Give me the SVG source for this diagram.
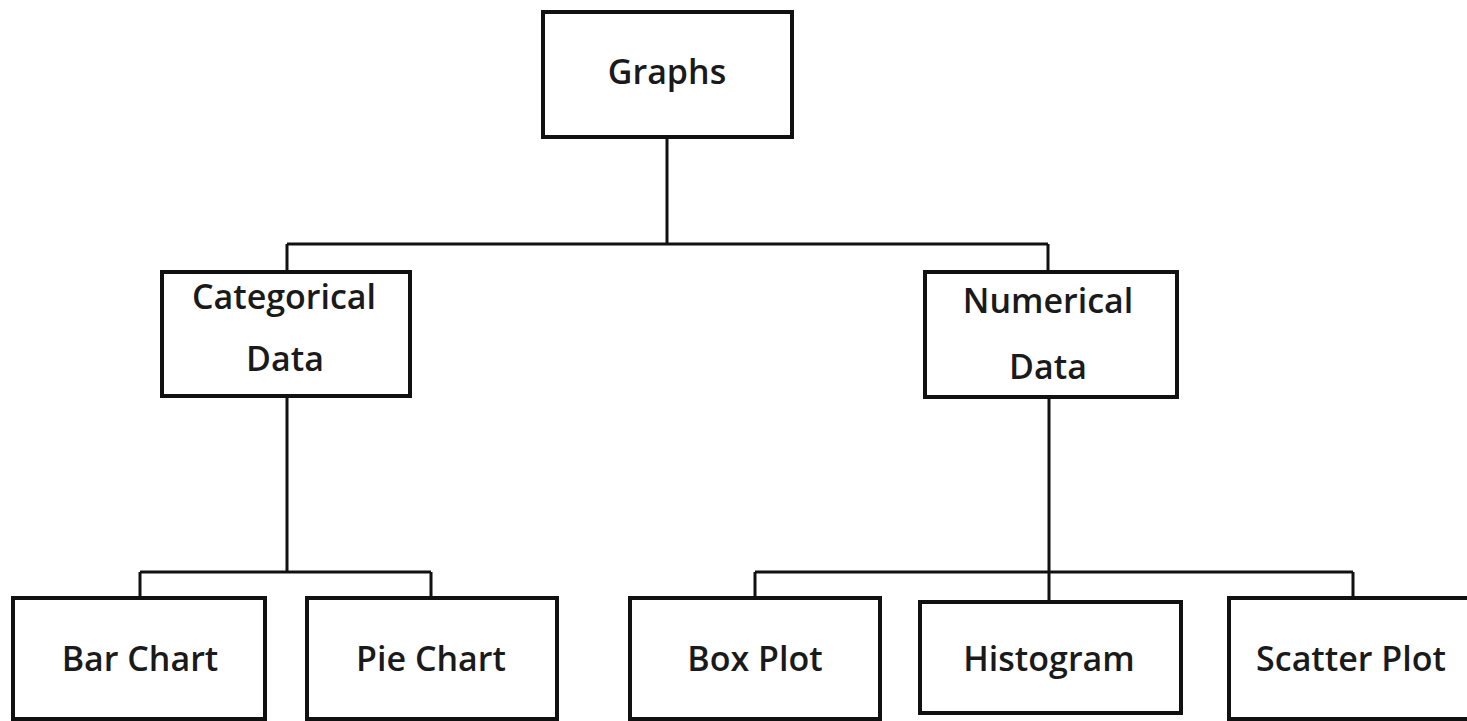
<svg xmlns="http://www.w3.org/2000/svg" width="1467" height="721" viewBox="0 0 1467 721">
<style>
.box{fill:#fff;stroke:#111;stroke-width:4}
.lbl{font-family:"Open Sans","Liberation Sans",sans-serif;font-size:34px;font-weight:600;fill:#1a1a1a;text-anchor:middle}
.con{fill:none;stroke:#111;stroke-width:3}
</style>
<rect width="1467" height="721" fill="#fff"/>
<g id="connectors" class="con">
<path d="M667,137 V244 M287,244 H1048 M287,244 V272 M1048,244 V272"/>
<path d="M287,396 V572 M140,572 H431 M140,572 V598 M431,572 V598"/>
<path d="M1049,397 V602 M755,572 H1353 M755,572 V598 M1353,572 V598"/>
</g>
<g id="graphs"><rect class="box" x="543" y="12" width="249" height="125"/><text class="lbl" x="667" y="84">Graphs</text></g>
<g id="categorical"><rect class="box" x="162" y="272" width="248" height="124"/><text class="lbl" x="284" y="309">Categorical</text><text class="lbl" x="285" y="371">Data</text></g>
<g id="numerical"><rect class="box" x="925" y="272" width="252" height="125"/><text class="lbl" x="1048" y="313">Numerical</text><text class="lbl" x="1048" y="379">Data</text></g>
<g id="bar"><rect class="box" x="13" y="598" width="252" height="121"/><text class="lbl" x="140" y="671">Bar Chart</text></g>
<g id="pie"><rect class="box" x="307" y="598" width="250" height="121"/><text class="lbl" x="431" y="671">Pie Chart</text></g>
<g id="box"><rect class="box" x="630" y="598" width="250" height="121"/><text class="lbl" x="755" y="671">Box Plot</text></g>
<g id="histogram"><rect class="box" x="920" y="602" width="261" height="111"/><text class="lbl" x="1049" y="671">Histogram</text></g>
<g id="scatter"><rect class="box" x="1229" y="598" width="260" height="121"/><text class="lbl" x="1351" y="671">Scatter Plot</text></g>
</svg>
